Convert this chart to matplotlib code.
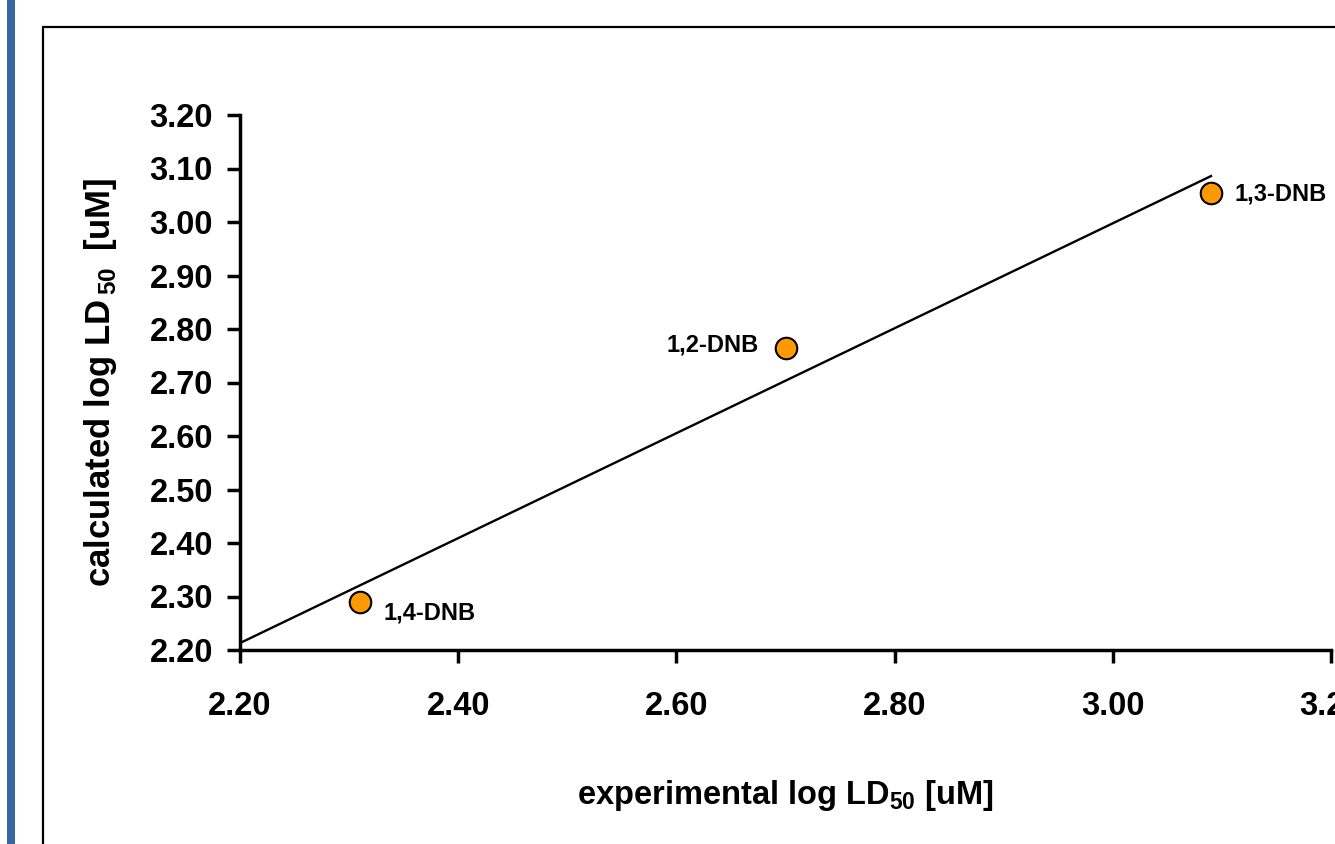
import numpy as np
import matplotlib
matplotlib.use('Agg')
import matplotlib.pyplot as plt
from matplotlib.patches import Rectangle

plt.rcParams['font.family'] = ['Liberation Sans', 'DejaVu Sans']
plt.rcParams['font.weight'] = 'bold'
plt.rcParams['mathtext.fontset'] = 'custom'
plt.rcParams['mathtext.rm'] = 'Liberation Sans:bold'
plt.rcParams['mathtext.bf'] = 'Liberation Sans:bold'

# data
compounds = ['1,4-DNB', '1,2-DNB', '1,3-DNB']
experimental = np.array([2.31, 2.70, 3.09])
calculated = np.array([2.29, 2.765, 3.055])
x_ticks = [2.20, 2.40, 2.60, 2.80, 3.00, 3.20]
y_ticks = [2.20, 2.30, 2.40, 2.50, 2.60, 2.70, 2.80, 2.90, 3.00, 3.10, 3.20]

# label offsets in points and alignment per compound
label_offsets = [(17, -8), (-19, 2), (17, -1)]
label_align = ['left', 'right', 'left']

fig = plt.figure(figsize=(13.35, 8.44), dpi=100)
ax = fig.add_axes([240 / 1335, 1 - 650 / 844, 1091 / 1335, 535 / 844])

# frame and left blue bar of the slide
fig.patches.append(Rectangle((43 / 1335, -0.1), 1.2, 1 - 27 / 844 + 0.1, transform=fig.transFigure,
                             fill=False, edgecolor='black', linewidth=1.6, clip_on=False))
fig.patches.append(Rectangle((7 / 1335, 0), 8 / 1335, 1, transform=fig.transFigure,
                             facecolor='#34689f', edgecolor='none'))

# linear fit drawn from the lower x limit up to the last point
slope, intercept = np.polyfit(experimental, calculated, 1)
fit_x = np.array([x_ticks[0], experimental.max()])
ax.plot(fit_x, slope * fit_x + intercept, color='black', linewidth=1.7, zorder=2)

ax.scatter(experimental, calculated, s=15.5 ** 2, color='#ff9900', edgecolor='black',
           linewidth=1.5, zorder=3, clip_on=False)

for name, xv, yv, off, ha in zip(compounds, experimental, calculated, label_offsets, label_align):
    ax.annotate(name, (xv, yv), xytext=off, textcoords='offset points', ha=ha, va='center',
                fontsize=17, fontweight='bold')

ax.set_xlim(2.20, 3.20)
ax.set_ylim(2.20, 3.20)
ax.set_xticks(x_ticks)
ax.set_yticks(y_ticks)
ax.set_xticklabels([f'{v:.2f}' for v in x_ticks])
ax.set_yticklabels([f'{v:.2f}' for v in y_ticks])

for side in ['top', 'right']:
    ax.spines[side].set_visible(False)
for side in ['left', 'bottom']:
    ax.spines[side].set_linewidth(2.5)
ax.tick_params(axis='both', direction='out', length=9.5, width=2.5, labelsize=23.5)
ax.tick_params(axis='x', pad=20)
ax.tick_params(axis='y', pad=10)

ax.set_xlabel(r'experimental log LD$_{\mathbf{50}}$ [uM]', fontsize=23.5, fontweight='bold', labelpad=40)
ax.set_ylabel(r'calculated log LD$_{\,\mathbf{50}}\,$ [uM]', fontsize=25, fontweight='bold', labelpad=22)

fig.savefig('out.png', dpi=100)
